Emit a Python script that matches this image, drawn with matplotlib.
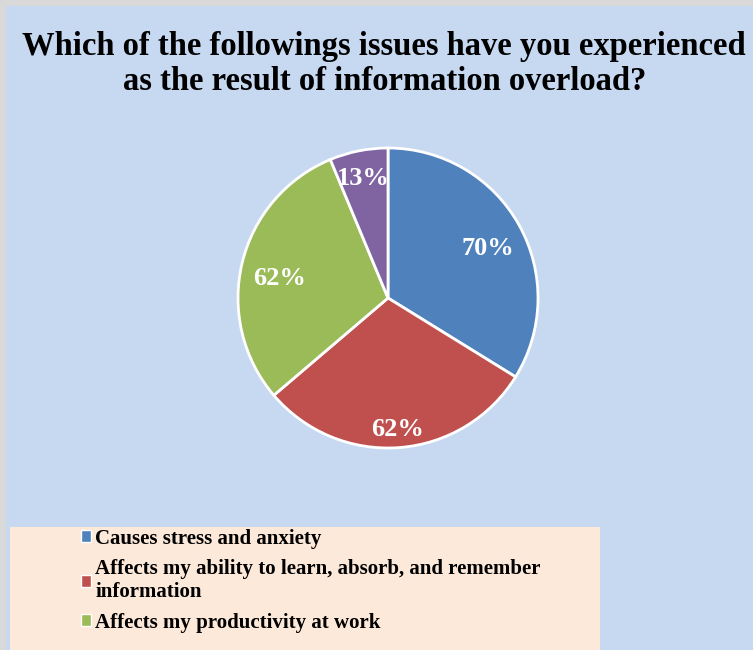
import matplotlib

matplotlib.use("Agg")
import matplotlib.pyplot as plt
from matplotlib.patches import Rectangle

labels = [
    "Causes stress and anxiety",
    "Affects my ability to learn, absorb, and remember\ninformation",
    "Affects my productivity at work",
    "Other",
]
values = [70, 62, 62, 13]
colors = ["#4F81BD", "#C0504D", "#9BBB59", "#8064A2"]
label_radius = [0.76, 0.84, 0.74, 0.85]

serif = ["Liberation Serif", "DejaVu Serif"]

fig = plt.figure(figsize=(7.53, 6.5), dpi=100, facecolor="#D9D9D9")
fig.patches.append(Rectangle((6 / 753, 0), 1, 1 - 6 / 650, transform=fig.transFigure,
                             facecolor="#C6D9F1", edgecolor="none", zorder=-3))
fig.patches.append(Rectangle((10 / 753, 0), 590 / 753, 123 / 650, transform=fig.transFigure,
                             facecolor="#FDE9D9", edgecolor="none", zorder=-2))

fig.text(384 / 753, 1 - 47 / 650, "Which of the followings issues have you experienced",
         ha="center", va="center", fontsize=23.5, fontweight="bold", family=serif)
fig.text(385 / 753, 1 - 81 / 650, "as the result of information overload?",
         ha="center", va="center", fontsize=23.5, fontweight="bold", family=serif)

ax = fig.add_axes([235 / 753, 1 - 451 / 650, 306 / 753, 306 / 650])
ax.set_zorder(2)
ax.set_facecolor("none")
wedges, texts, autotexts = ax.pie(
    values, colors=colors, startangle=90, counterclock=False,
    autopct="%1.0f", pctdistance=1.0,
    wedgeprops=dict(edgecolor="white", linewidth=2),
)
for t, v, r in zip(autotexts, values, label_radius):
    x, y = t.get_position()
    t.set_position((x * r, y * r - 0.04))
    t.set_text(f"{v}%")
    t.set_color("white")
    t.set_fontsize(19)
    t.set_fontweight("bold")
    t.set_family(serif)
ax.set_xlim(-1.02, 1.02)
ax.set_ylim(-1.02, 1.02)
ax.set_aspect("equal")

leg = fig.legend(wedges[:3], labels[:3], loc="upper left",
                 bbox_to_anchor=(62 / 753, 1 - 510 / 650), frameon=False,
                 prop=dict(family=serif, weight="bold", size=15),
                 handlelength=0.5, handleheight=0.5, handletextpad=0.2,
                 labelspacing=0.5)
for h in leg.legend_handles:
    h.set_edgecolor("white")
    h.set_linewidth(1)

fig.savefig("out.png", dpi=100, facecolor=fig.get_facecolor())
